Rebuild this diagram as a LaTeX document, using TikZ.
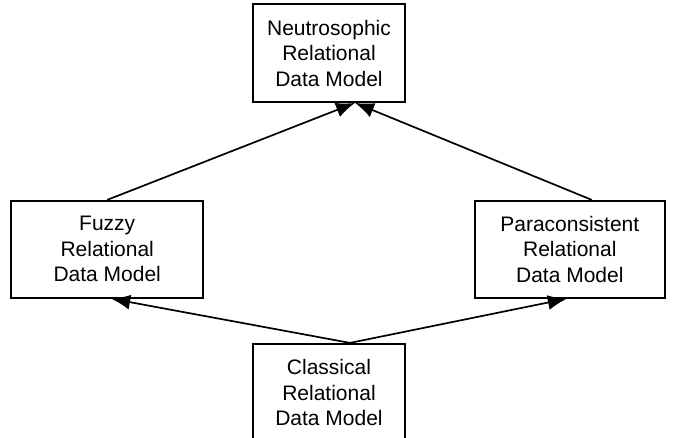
\documentclass[tikz,border=0pt]{standalone}
\usepackage{fontspec}
\setmainfont{Liberation Sans}
\usetikzlibrary{arrows.meta,positioning}

\begin{document}
\begin{tikzpicture}[x=1pt,y=-1pt,
		model/.style={draw,line width=1.8pt,align=center,inner sep=0pt,
			font=\fontsize{21}{25.5}\selectfont},
		link/.style={->,line width=1.7pt,>={Latex[length=19pt,width=15pt]}}]
		\useasboundingbox (0,0) rectangle (675,438);
		\node[model,minimum width=152pt,minimum height=98pt] (neutro) at (329,53) {Neutrosophic\\Relational\\Data Model};
		\node[model,minimum width=192pt,minimum height=97pt] (fuzzy) [below left=97pt and 48pt of neutro] {Fuzzy\\Relational\\Data Model};
		\node[model,minimum width=190pt,minimum height=97pt] (para) [below right=97pt and 68pt of neutro] {Paraconsistent\\Relational\\Data Model};
		\node[model,minimum width=152pt,minimum height=98pt] (classic) [below=240pt of neutro] {Classical\\Relational\\Data Model};
		\draw[link] (fuzzy.north) -- ([xshift=26pt]neutro.south);
		\draw[link] ([xshift=22pt]para.north) -- ([xshift=26pt]neutro.south);
		\draw[link] ([xshift=21pt]classic.north) -- ([xshift=4pt]fuzzy.south);
		\draw[link] ([xshift=21pt]classic.north) -- ([xshift=-3pt]para.south);
	\end{tikzpicture}
\end{document}
